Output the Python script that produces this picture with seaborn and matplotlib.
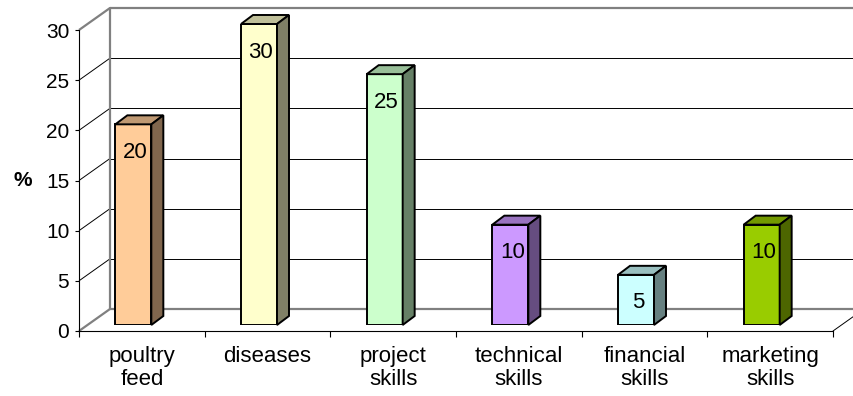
import matplotlib
matplotlib.use("Agg")
import matplotlib.pyplot as plt
from matplotlib.patches import Polygon
from matplotlib.colors import to_rgb
import numpy as np
import seaborn as sns

categories = ["poultry\nfeed", "diseases", "project\nskills", "technical\nskills",
              "financial\nskills", "marketing\nskills"]
values = [20, 30, 25, 10, 5, 10]
face_colors = ["#FFCC99", "#FFFFCC", "#CCFFCC", "#CC99FF", "#CCFFFF", "#99CC00"]
y_ticks = [0, 5, 10, 15, 20, 25, 30]

sns.set_style("white")
plt.rcParams['font.family'] = ['Liberation Sans', 'DejaVu Sans']
plt.rcParams.update({"text.color": "black", "axes.labelcolor": "black",
                     "xtick.color": "black", "ytick.color": "black"})

W, H = 854, 396
fig = plt.figure(figsize=(W / 100, H / 100), dpi=100)

x_left, x_right, y_zero, y_top = 79, 833, 331, 30
ax = fig.add_axes([x_left / W, 1 - y_zero / H, (x_right - x_left) / W, (y_zero - y_top) / H])
# bar plane sits a little behind the front frame
ax2 = fig.add_axes([(x_left - 8.5) / W, 1 - (y_zero - 6) / H, (x_right - x_left) / W, (y_zero - y_top) / H])

n = len(categories)
for a in (ax, ax2):
    a.set_xlim(-0.5, n - 0.5)
    a.set_ylim(0, 30)

px_x = (x_right - x_left) / n      # pixels per category
px_y = (y_zero - y_top) / 30       # pixels per unit

# back wall / grid on the front axes
Dx, Dy = 31 / px_x, 22 / px_y
grey = "#808080"
x_back_end = n - 0.5 + Dx
for v in y_ticks:
    edge = v in (0, 30)
    col = grey if edge else "black"
    lw = 1.6 if edge else 0.7
    ax.plot([-0.5, -0.5 + Dx], [v, v + Dy], color=col, lw=lw, clip_on=False, zorder=1,
            solid_capstyle="butt")
    ax.plot([-0.5 + Dx, x_back_end], [v + Dy, v + Dy], color=col, lw=lw, clip_on=False,
            zorder=1, solid_capstyle="butt")
ax.plot([-0.5 + Dx, -0.5 + Dx], [Dy, 30 + Dy], color=grey, lw=1.6, clip_on=False, zorder=1)
ax.plot([n - 0.5, n - 0.5 + Dx], [0, Dy], color="black", lw=0.7, clip_on=False, zorder=1)

for side in ("top", "right"):
    ax.spines[side].set_visible(False)
for side in ("left", "bottom"):
    ax.spines[side].set_color("black")
    ax.spines[side].set_linewidth(0.8)
ax.patch.set_alpha(0)

ax.set_yticks(y_ticks)
ax.set_yticklabels([str(t) for t in y_ticks], fontsize=15)
ax.tick_params(axis="y", direction="out", length=3, width=0.8, pad=4, left=True)
ax.set_xticks(range(n))
ax.set_xticklabels(categories, fontsize=16, linespacing=1.1)
ax.set_xticks(np.arange(-0.5, n, 1), minor=True)
ax.tick_params(axis="x", which="major", length=0, pad=11)
ax.tick_params(axis="x", which="minor", direction="out", length=4, width=0.8, bottom=True)
ax.set_ylabel("%", rotation=0, fontsize=15, fontweight="bold", va="center", ha="center")
ax.yaxis.set_label_coords(-0.074, 0.5)

# bars
sns.barplot(x=list(range(n)), y=values, hue=list(range(n)), palette=face_colors,
            width=36 / px_x, saturation=1, edgecolor="black", linewidth=1.4,
            legend=False, ax=ax2, zorder=3)
ax2.set_xlim(-0.5, n - 0.5)
ax2.set_ylim(0, 30)
ax2.axis("off")

dx, dy = 12 / px_x, 9 / px_y
bars = sorted(ax2.patches, key=lambda p: p.get_x())
for p, col, val in zip(bars, face_colors, values):
    x0, w, h = p.get_x(), p.get_width(), p.get_height()
    rgb = np.array(to_rgb(col))
    top = Polygon([(x0, h), (x0 + w, h), (x0 + w + dx, h + dy), (x0 + dx, h + dy)],
                  closed=True, facecolor=rgb * 0.75, edgecolor="black", lw=1.4,
                  joinstyle="miter", clip_on=False, zorder=4)
    sidep = Polygon([(x0 + w, 0), (x0 + w + dx, dy), (x0 + w + dx, h + dy), (x0 + w, h)],
                    closed=True, facecolor=rgb * 0.5, edgecolor="black", lw=1.4,
                    joinstyle="miter", clip_on=False, zorder=4)
    ax2.add_patch(top)
    ax2.add_patch(sidep)
    ax2.text(x0 + w / 2 + 0.015, h - 2.8, str(val), ha="center", va="center",
             fontsize=16, zorder=5)

fig.savefig("out.png", dpi=100)
